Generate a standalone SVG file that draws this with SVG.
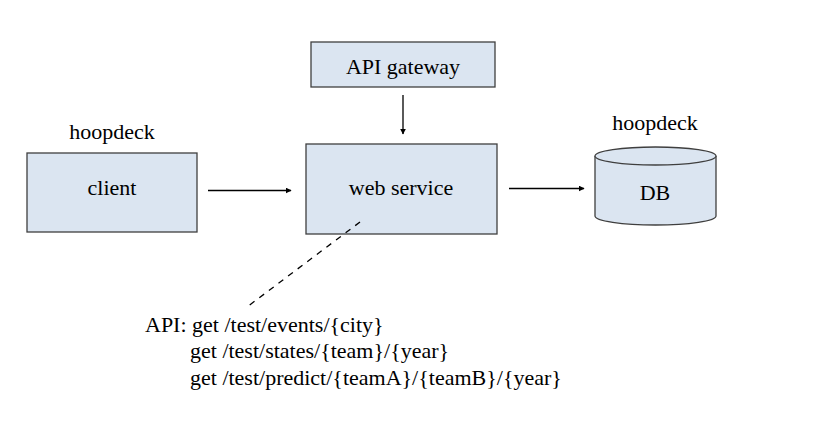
<svg xmlns="http://www.w3.org/2000/svg" width="818" height="422" viewBox="0 0 818 422">
<style>
.box{fill:#dbe5f1;stroke:#3f3f3f;stroke-width:1.3}
.conn{stroke:#000;stroke-width:1.3;fill:none}
</style>
<defs>
<marker id="ah" viewBox="0 0 10 10" refX="9" refY="5" markerWidth="6" markerHeight="6" markerUnits="userSpaceOnUse" orient="auto"><path d="M0,0L10,5L0,10z" fill="#000"/></marker>
</defs>
<rect width="818" height="422" fill="#fff"/>
<g id="gateway">
<rect class="box" x="311" y="42" width="184" height="45"/>
<text x="403" y="74" text-anchor="middle" font-family="Liberation Serif" font-size="22">API gateway</text>
</g>
<g id="client">
<text x="112" y="139" text-anchor="middle" font-family="Liberation Serif" font-size="22">hoopdeck</text>
<rect class="box" x="27" y="153" width="170" height="79"/>
<text x="112" y="195" text-anchor="middle" font-family="Liberation Serif" font-size="22">client</text>
</g>
<g id="webservice">
<rect class="box" x="306" y="144" width="191" height="90"/>
<text x="401" y="195" text-anchor="middle" font-family="Liberation Serif" font-size="22">web service</text>
</g>
<g id="db">
<text x="655" y="130" text-anchor="middle" font-family="Liberation Serif" font-size="22">hoopdeck</text>
<path class="box" d="M595,156 L595,216 A60.5,9 0 0 0 716,216 L716,156 A60.5,9 0 0 0 595,156 Z"/>
<path class="box" d="M595,156 A60.5,9 0 0 0 716,156"/>
<text x="655" y="200" text-anchor="middle" font-family="Liberation Serif" font-size="22">DB</text>
</g>
<g id="api-note">
<text x="145" y="332" font-family="Liberation Serif" font-size="22">API: get /test/events/{city}</text>
<text x="190" y="358" font-family="Liberation Serif" font-size="22">get /test/states/{team}/{year}</text>
<text x="190" y="385" font-family="Liberation Serif" font-size="22">get /test/predict/{teamA}/{teamB}/{year}</text>
</g>
<g id="connectors">
<line class="conn" x1="403" y1="95" x2="403" y2="134" marker-end="url(#ah)"/>
<line class="conn" x1="208" y1="190.5" x2="291" y2="190.5" marker-end="url(#ah)"/>
<line class="conn" x1="509" y1="188.5" x2="584" y2="188.5" marker-end="url(#ah)"/>
<line class="conn" x1="360" y1="222" x2="247" y2="307" stroke-dasharray="6,6" stroke-width="1.8"/>
</g>
</svg>
